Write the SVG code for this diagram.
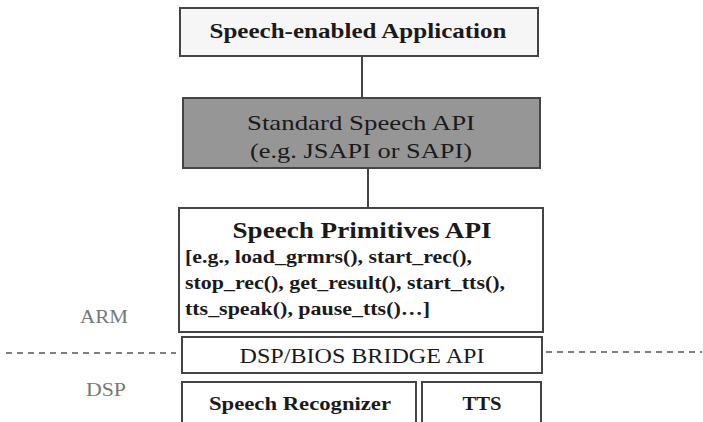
<svg xmlns="http://www.w3.org/2000/svg" width="703" height="422" viewBox="0 0 703 422">
<style>
.box{stroke:#444;stroke-width:2;fill:#fff}
.t{font-family:"Liberation Serif","DejaVu Serif",serif;fill:#1a1a1a;text-anchor:middle}
.b{font-weight:bold}
.lab{font-family:"Liberation Serif",serif;fill:#777;font-size:18px;text-anchor:middle}
.conn{stroke:#444;stroke-width:2;fill:none}
.dash{stroke:#555;stroke-width:1.5;stroke-dasharray:6,5;fill:none}
</style>
<rect width="703" height="422" fill="#fff"/>
<g id="connectors">
<line class="conn" x1="362" y1="56" x2="362" y2="98"/>
<line class="conn" x1="368" y1="168" x2="368" y2="208"/>
<line class="dash" x1="6" y1="353" x2="176" y2="353"/>
<line class="dash" x1="546" y1="352" x2="702" y2="352"/>
</g>
<g id="app">
<rect class="box" x="180" y="8" width="358" height="48" style="fill:#f6f6f6"/>
<text class="t b" x="358" y="38" font-size="21" textLength="297" lengthAdjust="spacingAndGlyphs">Speech-enabled Application</text>
</g>
<g id="std">
<rect class="box" x="183" y="98" width="357" height="70" style="fill:#969696"/>
<text class="t" x="361" y="130" font-size="21" textLength="228" lengthAdjust="spacingAndGlyphs">Standard Speech API</text>
<text class="t" x="361" y="158" font-size="21" textLength="222" lengthAdjust="spacingAndGlyphs">(e.g. JSAPI or SAPI)</text>
</g>
<g id="prim">
<rect class="box" x="179" y="208" width="364" height="124"/>
<text class="t b" x="362" y="238" font-size="23" textLength="259" lengthAdjust="spacingAndGlyphs">Speech Primitives API</text>
<text class="t b" x="185" y="263" font-size="19" style="text-anchor:start" textLength="287" lengthAdjust="spacingAndGlyphs">[e.g., load_grmrs(), start_rec(),</text>
<text class="t b" x="185" y="289" font-size="19" style="text-anchor:start" textLength="320" lengthAdjust="spacingAndGlyphs">stop_rec(), get_result(), start_tts(),</text>
<text class="t b" x="185" y="315" font-size="19" style="text-anchor:start" textLength="245" lengthAdjust="spacingAndGlyphs">tts_speak(), pause_tts()…]</text>
</g>
<g id="bridge">
<rect class="box" x="182" y="337" width="360" height="36"/>
<text class="t" x="362" y="363" font-size="21" textLength="245" lengthAdjust="spacingAndGlyphs">DSP/BIOS BRIDGE API</text>
</g>
<g id="recognizer">
<rect class="box" x="182" y="382" width="234" height="44"/>
<text class="t b" x="300" y="410" font-size="19" textLength="182" lengthAdjust="spacingAndGlyphs">Speech Recognizer</text>
</g>
<g id="tts">
<rect class="box" x="422" y="382" width="119" height="44"/>
<text class="t b" x="482" y="410" font-size="19" textLength="39" lengthAdjust="spacingAndGlyphs">TTS</text>
</g>
<g id="labels">
<text class="lab" x="104" y="323" textLength="48" lengthAdjust="spacingAndGlyphs">ARM</text>
<text class="lab" x="106" y="396" textLength="40" lengthAdjust="spacingAndGlyphs">DSP</text>
</g>
</svg>
